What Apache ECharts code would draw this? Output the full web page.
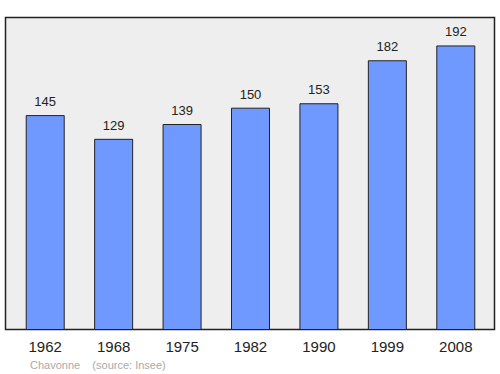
<!DOCTYPE html>
<html><head><meta charset="utf-8">
<script src="https://cdn.jsdelivr.net/npm/echarts@6/dist/echarts.min.js"></script>
<style>html,body{margin:0;padding:0;background:#fff}#c{width:500px;height:374px}</style>
</head><body><div id="c"></div>
<script>
const years = ['1962','1968','1975','1982','1990','1999','2008'];
const population = [145,129,139,150,153,182,192];
const chart = echarts.init(document.getElementById('c'), null, {renderer:'svg'});
chart.setOption({
  animation:false,
  backgroundColor:'#ffffff',
  graphic:[
    {type:'rect', z:-10, shape:{x:5.5,y:17.5,width:489,height:312}, style:{fill:'#eeeeee', stroke:'#222222', lineWidth:1.5}},
    {type:'text', left:30, top:359, style:{text:'Chavonne    (source: Insee)', fill:'#aaaaaa', font:'11px "Liberation Sans", Arial, sans-serif'}}
  ],
  grid:{left:11, right:10, top:17, bottom:44},
  xAxis:{type:'category', data:years, axisLine:{show:false}, axisTick:{show:false},
    axisLabel:{color:'#222', fontSize:15, fontFamily:'Liberation Sans, Arial, sans-serif', margin:9}},
  yAxis:{type:'value', min:0, max:211.2, show:false, splitLine:{show:false}},
  series:[{type:'bar', data:population, barWidth:39,
    itemStyle:{color:'#7099ff', borderColor:'#222', borderWidth:1},
    label:{show:true, position:'top', distance:7, color:'#222', fontSize:13, fontFamily:'Liberation Sans, Arial, sans-serif'}}]
});
</script></body></html>
